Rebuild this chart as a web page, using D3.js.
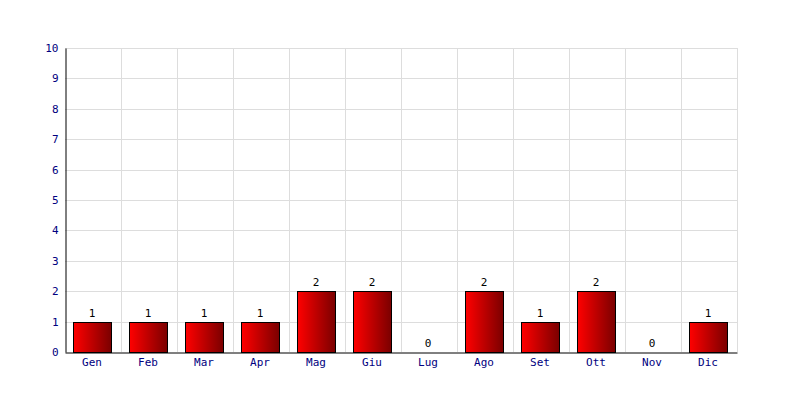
<!DOCTYPE html>
<html><head><meta charset="utf-8">
<script src="https://cdn.jsdelivr.net/npm/d3@7"></script>
<style>body{margin:0;background:#fff}svg{display:block}text{font-family:"DejaVu Sans Mono",monospace;font-size:11px}</style>
</head><body><svg id="c" width="800" height="400"></svg>
<script>
const months = ["Gen","Feb","Mar","Apr","Mag","Giu","Lug","Ago","Set","Ott","Nov","Dic"];
const values = [1,1,1,1,2,2,0,2,1,2,0,1];
const yTicks = [0,1,2,3,4,5,6,7,8,9,10];

const svg = d3.select("#c");
const m = {l:65, r:63, t:48, b:48};
const W = 800, H = 400;
const xb = d3.scaleBand().domain(months).range([m.l, W-m.r]);
const y = d3.scaleLinear().domain([0,10]).range([H-m.b, m.t]);

const defs = svg.append("defs");
const g = defs.append("linearGradient").attr("id","gr").attr("x1","0").attr("x2","1").attr("y1","0").attr("y2","0");
g.append("stop").attr("offset","0").attr("stop-color","#ff0000");
g.append("stop").attr("offset","1").attr("stop-color","#7a0000");

// grid
svg.append("g").selectAll("line").data(yTicks.slice(1)).join("line")
  .attr("x1",m.l).attr("x2",W-m.r).attr("y1",d=>Math.round(y(d))+0.5).attr("y2",d=>Math.round(y(d))+0.5)
  .attr("stroke","#dddddd");
svg.append("g").selectAll("line").data(months).join("line")
  .attr("x1",d=>Math.round(xb(d)+xb.bandwidth())+0.5).attr("x2",d=>Math.round(xb(d)+xb.bandwidth())+0.5)
  .attr("y1",m.t).attr("y2",H-m.b).attr("stroke","#dddddd");

// bars
const bw = 38;
svg.append("g").selectAll("rect").data(months.map((mo,i)=>({mo,v:values[i]})).filter(d=>d.v>0)).join("rect")
  .attr("x",d=>Math.round(xb(d.mo)+8)+0.5).attr("width",bw)
  .attr("y",d=>Math.round(y(d.v))+0.5).attr("height",d=>Math.round(y(0))-Math.round(y(d.v)))
  .attr("fill","url(#gr)").attr("stroke","#000").attr("stroke-width",1);

// value labels
svg.append("g").selectAll("text").data(months.map((mo,i)=>({mo,v:values[i]}))).join("text")
  .attr("x",d=>xb(d.mo)+8+bw/2).attr("y",d=>Math.round(y(d.v))-5)
  .attr("text-anchor","middle").attr("fill","#000").text(d=>d.v);

// axes
const yAxis = d3.axisLeft(y).tickValues(yTicks).tickSize(0).tickPadding(7);
const ya = svg.append("g").attr("transform",`translate(${m.l+0.5},0)`).call(yAxis);
ya.select(".domain").attr("stroke","#000");
ya.selectAll("text").attr("fill","#000080").style("font-size","11px").style("font-family","DejaVu Sans Mono");

const xAxis = d3.axisBottom(xb).tickSize(0).tickPadding(6);
const xa = svg.append("g").attr("transform",`translate(-1,${H-m.b+0.5})`).call(xAxis);
xa.select(".domain").attr("stroke","#000").attr("transform","translate(1,0)");
xa.selectAll("text").attr("fill","#000080").style("font-size","11px").style("font-family","DejaVu Sans Mono");
</script></body></html>
